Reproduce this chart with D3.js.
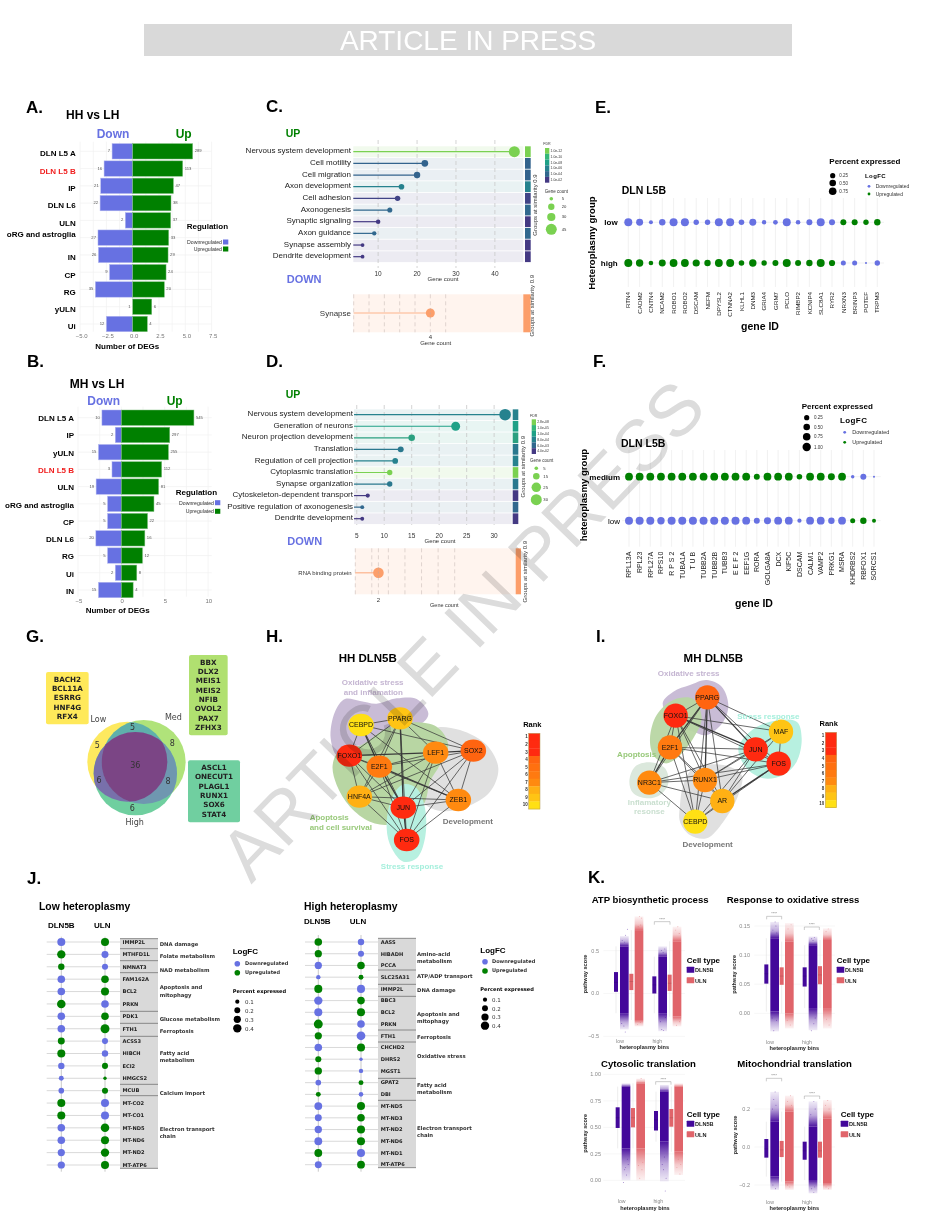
<!DOCTYPE html>
<html><head><meta charset="utf-8">
<script src="https://cdn.jsdelivr.net/npm/d3@7/dist/d3.min.js"></script>
<style>html,body{margin:0;padding:0;background:#fff}svg{display:block}text{font-family:"Liberation Sans",Arial,sans-serif}</style>
</head><body><div id="chart"></div>
<script>
// ---------- data ----------
const panelACats=["DLN L5 A","DLN L5 B","IP","DLN L6","ULN","oRG and astroglia","IN","CP","RG","yULN","Ui"];
const panelAUp=[5.7,4.75,3.87,3.64,3.61,3.42,3.36,3.17,3.01,1.81,1.39];
const panelADown=[1.96,2.72,3.04,3.1,0.7,3.3,3.26,2.2,3.55,0,2.5];
const panelAUpLabels=["289","113","47","38","37","33","29","24","20","6","4"];
const panelADownLabels=["7","16","21","22","2","27","26","9","35","1","12"];
const panelATicks=[-5,-2.5,0,2.5,5,7.5];
const panelBCats=["DLN L5 A","IP","yULN","DLN L5 B","ULN","oRG and astroglia","CP","DLN L6","RG","Ui","IN"];
const panelBUp=[8.37,5.58,5.43,4.65,4.3,3.76,3.02,2.71,2.44,1.78,1.36];
const panelBDown=[2.24,0.7,2.64,1.08,2.91,1.59,1.59,2.94,1.59,0.7,2.64];
const panelBUpLabels=["545","297","255","112","81","45","22","16","12","8","4"];
const panelBDownLabels=["10","2","15","3","19","5","5","20","5","2","15"];
const panelBTicks=[-5,0,5,10];

const cTerms=["Nervous system development","Cell motility","Cell migration","Axon development","Cell adhesion","Axonogenesis","Synaptic signaling","Axon guidance","Synapse assembly","Dendrite development"];
const cCounts=[45,22,20,16,15,13,10,9,6,6];
const cFdrColors=["#7ad151","#33638d","#33638d","#26828e","#414487","#31688e","#443983","#31688e","#443983","#443983"];
const cLegendFdr=["1.0e-12","1.0e-10","1.0e-08","1.0e-06","1.0e-04","1.0e-02"];
const cLegendCount=[5,20,30,45];
const dTerms=["Nervous system development","Generation of neurons","Neuron projection development","Translation","Regulation of cell projection","Cytoplasmic translation","Synapse organization","Cytoskeleton-dependent transport","Positive regulation of axonogenesis","Dendrite development"];
const dCounts=[32,23,15,13,12,11,11,7,6,6];
const dFdrColors=["#26828e","#1fa187","#2ba080","#2a788e","#26828e","#7ad151","#2a788e","#443983","#31688e","#443983"];
const dLegendFdr=["2.8e-08","1.0e-05","1.0e-04","8.0e-04","6.0e-03","4.0e-02"];
const dLegendCount=[5,15,25,30];
const fdrLegendColors=["#7ad151","#35b779","#1fa187","#26828e","#31688e","#443983"];

const eGenes=["RTN4","CADM2","CNTN4","NCAM2","ROBO1","ROBO2","DSCAM","NEFM","DPYSL2","CTNNA2","KLHL1","DNM3","GRIA4","GRM7","PCLO","RIMBP2","KCNIP4","SLC8A1","RYR2","NRXN3","BRINP3","POTEF","TRPM3"];
const ePctLow=[.87,.59,.12,.46,.87,.87,.28,.28,.87,.87,.31,.59,.16,.2,.87,.18,.38,.87,.38,.38,.38,.28,.46];
const ePctHigh=[.87,.7,.18,.59,.81,.81,.64,.46,.81,.87,.31,.7,.28,.38,.87,.38,.46,.87,.42,.23,.23,.017,.28];
const eDirLow=[0,0,0,0,0,0,0,0,0,0,0,0,0,0,0,0,0,0,0,1,1,1,1];
const fGenes=["RPL13A","RPL23","RPL27A","RPS10","R P S 2","TUBA1A","T U B","TUBB2A","TUBB2B","TUBB3","E E F 2","EEF1G","RORA","GOLGA8A","DCX","KIF5C","DSCAM","CALM1","VAMP2","PRKG1","MSRA","KHDRBS2","RBFOX1","SORCS1"];
const fPctMedium=[.81,.81,.81,.81,.81,.81,.81,.81,.81,.81,.81,.81,.38,.81,.81,.81,.31,.81,.81,.59,.81,.08,.38,.017];
const fPctLow=[.87,.87,.87,.7,.87,.87,.87,.87,.87,.87,.87,.81,.38,.59,.81,.81,.14,.81,.81,.46,.81,.23,.46,.12];
const fDirMedium=[1,1,1,1,1,1,1,1,1,1,1,1,1,1,1,1,1,1,1,1,1,0,0,0];

const gLowTFs=["BACH2","BCL11A","ESRRG","HNF4G","RFX4"];
const gMedTFs=["BBX","DLX2","MEIS1","MEIS2","NFIB","OVOL2","PAX7","ZFHX3"];
const gHighTFs=["ASCL1","ONECUT1","PLAGL1","RUNX1","SOX6","STAT4"];
const gSetNames=["Low","Med","High"];
const gCounts=["5","5","8","36","6","8","6"];

const hNodes=["CEBPD","PPARG","FOXO1","E2F1","LEF1","SOX2","HNF4A","JUN","ZEB1","FOS"];
const hRanks=[10,9,2,6,7,4,8,1,7,3];
const hEdges=[["CEBPD","PPARG"],["CEBPD","FOXO1"],["CEBPD","E2F1",2],["CEBPD","SOX2"],["CEBPD","ZEB1"],["CEBPD","JUN"],["PPARG","FOXO1"],["PPARG","E2F1"],["PPARG","HNF4A"],["PPARG","LEF1"],["PPARG","SOX2"],["PPARG","JUN",2],["PPARG","FOS"],["FOXO1","E2F1"],["FOXO1","LEF1",2],["FOXO1","HNF4A"],["FOXO1","JUN"],["FOXO1","FOS"],["FOXO1","ZEB1"],["E2F1","LEF1"],["E2F1","SOX2"],["E2F1","HNF4A"],["E2F1","JUN",2],["E2F1","FOS"],["E2F1","ZEB1",2],["LEF1","SOX2",2],["LEF1","HNF4A"],["LEF1","JUN"],["LEF1","ZEB1"],["LEF1","FOS"],["SOX2","HNF4A"],["SOX2","JUN"],["SOX2","ZEB1"],["SOX2","FOS"],["HNF4A","JUN"],["HNF4A","FOS"],["HNF4A","ZEB1"],["JUN","ZEB1"],["JUN","FOS",2],["ZEB1","FOS"]];
const iNodes=["PPARG","FOXO1","E2F1","JUN","MAF","FOS","RUNX1","NR3C1","AR","CEBPD"];
const iRanks=[4,3,6,1,9,2,7,7,8,10];
const iEdges=[["PPARG","FOXO1"],["PPARG","E2F1",2],["PPARG","MAF"],["PPARG","JUN",2],["PPARG","FOS"],["PPARG","RUNX1",2],["PPARG","NR3C1"],["PPARG","AR"],["PPARG","CEBPD"],["FOXO1","E2F1"],["FOXO1","MAF"],["FOXO1","JUN",2],["FOXO1","FOS"],["FOXO1","RUNX1"],["FOXO1","NR3C1"],["FOXO1","AR"],["FOXO1","CEBPD"],["E2F1","JUN"],["E2F1","FOS"],["E2F1","RUNX1"],["E2F1","NR3C1",2],["E2F1","AR"],["E2F1","CEBPD"],["JUN","MAF"],["JUN","FOS"],["JUN","RUNX1"],["JUN","NR3C1"],["JUN","AR"],["JUN","CEBPD"],["MAF","FOS"],["MAF","AR"],["MAF","RUNX1"],["FOS","RUNX1"],["FOS","NR3C1"],["FOS","AR",2],["FOS","CEBPD"],["RUNX1","NR3C1"],["RUNX1","AR"],["RUNX1","CEBPD"],["NR3C1","AR"],["NR3C1","CEBPD"],["AR","CEBPD"]];
const rankLabels=[1,2,3,4,5,6,7,8,9,10];
const rankColors=["#ff2a10","#ff2a10","#ff2a10","#ff6410","#ff7010","#ff7a10","#ff8a10","#ffb014","#ffc414","#ffe014"];

const jLowGenes=["IMMP2L","MTHFD1L","NMNAT3","FAM162A","BCL2","PRKN","PDK1","FTH1","ACSS3","HIBCH","ECI2","HMGCS2","MCUB","MT-CO2","MT-CO1","MT-ND5","MT-ND6","MT-ND2","MT-ATP6"];
const jLowPctD=[.37,.4,.235,.33,.33,.42,.33,.33,.28,.37,.235,.14,.18,.37,.37,.33,.33,.3,.3];
const jLowPctU=[.37,.28,.21,.33,.37,.33,.33,.46,.21,.235,.21,.066,.21,.37,.37,.42,.37,.4,.37];
const jLowDirD=[0,1,1,0,0,1,0,0,1,1,0,0,0,1,1,0,0,0,0];
const jLowGroups=[["DNA damage",1],["Folate metabolism",1],["NAD metabolism",1],["Apoptosis and|mitophagy",3],["Glucose metabolism",1],["Ferroptosis",1],["Fatty acid|metabolism",4],["Calcium import",1],["Electron transport|chain",6]];
const jHighGenes=["AASS","HIBADH","PCCA","SLC25A31","IMMP2L","BBC3","BCL2","PRKN","FTH1","CHCHD2","DHRS2","MGST1","GPAT2","DBI","MT-ND5","MT-ND3","MT-ND2","MT-ND6","MT-ND1","MT-ATP6"];
const jHighPctD=[.33,.3,.3,.11,.37,.4,.37,.46,.3,.33,.21,.31,.18,.14,.35,.28,.31,.35,.35,.28];
const jHighPctU=[.235,.21,.33,.14,.37,.33,.37,.33,.44,.37,.066,.11,.14,.12,.37,.33,.37,.37,.37,.35];
const jHighDirD=[1,1,0,0,1,0,0,1,1,0,1,1,0,1,0,0,0,0,1,0];
const jHighGroups=[["Amino-acid|metabolism",3],["ATP/ADP transport",1],["DNA damage",1],["Apoptosis and|mitophagy",3],["Ferroptosis",1],["Oxidative stress",3],["Fatty acid|metabolism",2],["Electron transport|chain",6]];
const jPctLegend=[.1,.2,.3,.4];

// K: each row = [q1, median, q3, coreLow, coreHigh, tailLow, tailHigh] for DLN5B low, ULN low, DLN5B high, ULN high
const kBins=["low","high"];
const kCellTypes=["DLN5B","ULN"];
const kAtp=[[.02,.13,.25,-.23,.55,-.42,.67],[.04,.14,.23,-.31,.74,-.385,.9],[0,.1,.2,-.23,.43,-.44,.55],[.03,.12,.22,-.27,.61,-.385,.78]];
const kOxi=[[.051,.068,.084,.003,.129,-.031,.157],[.049,.064,.079,0,.123,-.026,.155],[.046,.064,.079,.009,.117,-.029,.132],[.05,.066,.081,.009,.126,-.026,.146]];
const kCyto=[[.494,.59,.689,.302,.884,0,.915],[.5,.59,.682,.302,.915,0,.96],[.47,.57,.654,.365,.836,-.01,.9],[.506,.59,.673,.27,.884,.05,.915]];
const kMito=[[-.056,-.01,.042,-.156,.133,-.226,.29],[-.053,-.015,.032,-.182,.186,-.226,.27],[-.067,-.02,.028,-.174,.107,-.244,.24],[-.056,-.02,.028,-.19,.151,-.226,.247]];
const kAtpTicks=[-.5,0,.5], kOxiTicks=[0,.05,.1,.15], kCytoTicks=[0,.25,.5,.75,1], kMitoTicks=[-.2,0,.2];
// outlying jitter points: [band, position across band (-1..1), value]
const kAtpOut=[[0,.7,.75],[0,.3,.68],[0,-.5,.62],[0,.1,.6],[0,-.1,-.38],[0,.2,-.45],[0,-.6,-.35],[1,.1,.9],[1,.6,.88],[1,-.2,.78],[1,.4,.8],[1,-.3,-.36],[1,.3,-.34],[2,.5,.52],[2,-.3,.5],[2,.1,.48],[2,-.5,-.33],[2,.2,-.43],[2,-.2,-.42],[2,.6,-.28],[3,.2,.78],[3,-.3,.74],[3,.5,.7],[3,-.1,-.37],[3,.6,-.33]];
const kOxiOut=[[0,.1,.157],[0,.3,.15],[0,-.4,.143],[0,.5,.138],[0,-.2,-.03],[0,.4,-.012],[0,-.6,-.008],[1,.4,.152],[1,-.3,.145],[1,.2,-.02],[1,-.5,-.012],[2,.3,.13],[2,-.3,.128],[2,0,.125],[2,-.4,-.03],[2,.2,-.018],[2,.5,-.008],[3,.2,.145],[3,-.3,.14],[3,.4,-.02],[3,-.2,-.01]];
const kCytoOut=[[0,.1,.05],[0,-.3,.1],[0,.5,.15],[0,-.6,-.02],[0,-.1,.12],[0,.3,.2],[1,-.2,.02],[1,.3,.1],[1,-.5,.14],[1,.5,.17],[1,.1,.96],[2,-.2,.1],[2,.4,.02],[2,-.5,.15],[2,0,.22],[2,.2,-.1],[3,.3,.06],[3,-.4,.12],[3,.5,.15],[3,-.1,.2]];
const kMitoOut=[[0,.1,.29],[0,-.2,.25],[0,.3,.22],[0,-.5,.2],[0,.2,-.22],[0,-.4,-.2],[1,.3,.27],[1,-.4,.24],[1,.5,.22],[1,.1,-.21],[1,-.4,-.2],[2,.2,.24],[2,.5,.2],[2,-.5,.17],[2,-.3,-.22],[2,.2,-.24],[2,.4,-.21],[3,.1,.245],[3,-.4,.22],[3,.4,.2],[3,.3,-.22],[3,-.3,-.21]];

// ---------- colours / helpers ----------
const BLUE="#6771e2", GREEN="#008000", PURPLE="#43089a", RED="#e0646a";
const W=936,H=1232;
const svg=d3.select("#chart").append("svg").attr("width",W).attr("height",H).attr("viewBox",[0,0,W,H]);
const defs=svg.append("defs");
const DEJAVU='"DejaVu Sans",sans-serif';
function T(g,x,y,s,o={}){
  const e=g.append("text").attr("x",x).attr("y",y).text(s)
    .attr("font-size",o.size||8).attr("fill",o.fill||"#000")
    .attr("text-anchor",o.anchor||"start");
  if(o.weight)e.attr("font-weight",o.weight);
  if(o.mid)e.attr("dy",".35em");
  if(o.family)e.style("font-family",o.family);
  if(o.rot!=null)e.attr("transform",`rotate(${o.rot},${x},${y})`);
  if(o.ls)e.attr("letter-spacing",o.ls);
  return e;
}
const root=svg.append("g");

// header
root.append("rect").attr("x",144).attr("y",24).attr("width",648).attr("height",32).attr("fill","#d9d9d9");
T(root,468,50,"ARTICLE IN PRESS",{size:28,fill:"#fff",anchor:"middle"});

// panel letters
[["A.",26,113],["B.",27,367],["C.",266,112],["D.",266,367],["E.",595,113],["F.",593,367],["G.",26,642],["H.",266,642],["I.",596,642],["J.",27,884],["K.",588,883]]
  .forEach(d=>T(root,d[1],d[2],d[0],{size:17,weight:"bold"}));

// ---------- A/B diverging bars ----------
function diverging(o){
  const g=root.append("g");
  const x=d3.scaleLinear().domain(o.dom).range(o.xr);
  const y=d3.scalePoint().domain(o.cats.map((c,i)=>i)).range(o.yr);
  const bh=o.bh;
  g.append("g").selectAll("line").data(o.grid).join("line").attr("x1",d=>x(d)).attr("x2",d=>x(d))
    .attr("y1",o.gy[0]).attr("y2",o.gy[1]).attr("stroke","#f0f0f0").attr("stroke-width",.7);
  g.append("g").selectAll("line").data(o.cats).join("line").attr("x1",o.xr[0]).attr("x2",o.xr[1])
    .attr("y1",(d,i)=>y(i)).attr("y2",(d,i)=>y(i)).attr("stroke","#f0f0f0").attr("stroke-width",.7);
  g.append("g").selectAll("rect").data(o.down).join("rect").attr("x",d=>x(-d)).attr("width",d=>x(0)-x(-d))
    .attr("y",(d,i)=>y(i)-bh/2).attr("height",bh).attr("fill",BLUE).attr("stroke","#b3b8f0").attr("stroke-width",.5);
  g.append("g").selectAll("rect").data(o.up).join("rect").attr("x",x(0)).attr("width",d=>x(d)-x(0))
    .attr("y",(d,i)=>y(i)-bh/2).attr("height",bh).attr("fill",GREEN).attr("stroke","#7fbf7f").attr("stroke-width",.5);
  o.cats.forEach((c,i)=>{
    T(g,o.labelX,y(i)+(o.nudge[i]||0),c,{size:8,weight:"bold",anchor:"end",mid:1,fill:c==="DLN L5 B"?"#f01c1c":"#000"});
    T(g,x(o.up[i])+2,y(i)-.5,o.upL[i],{size:4.2,fill:"#555",mid:1});
    T(g,x(-o.down[i])-2,y(i)-.5,o.downL[i],{size:4.2,fill:"#555",anchor:"end",mid:1});
  });
  o.ticks.forEach(t=>T(g,x(t)+o.tdx,o.tickY,o.fmt(t),{size:6,fill:"#777",anchor:"middle",mid:1}));
  T(g,o.xLab[0],o.xLab[1],"Number of DEGs",{size:8,weight:"bold",anchor:"middle"});
  T(g,o.title[0],o.title[1],o.title[2],{size:12,weight:"bold"});
  T(g,o.dn[0],o.dn[1],"Down",{size:12,weight:"bold",fill:BLUE});
  T(g,o.upT[0],o.upT[1],"Up",{size:12,weight:"bold",fill:GREEN});
  const L=o.leg;
  T(g,L.x,L.ty,"Regulation",{size:8,weight:"bold"});
  [["Downregulated",BLUE,L.y[0]],["Upregulated",GREEN,L.y[1]]].forEach(r=>{
    T(g,L.tx,r[2],r[0],{size:5.2,anchor:"end",mid:1,fill:"#333"});
    g.append("rect").attr("x",L.tx+1).attr("y",r[2]-2.5).attr("width",5.3).attr("height",5).attr("fill",r[1]);
  });
}
diverging({cats:panelACats,up:panelAUp,down:panelADown,upL:panelAUpLabels,downL:panelADownLabels,ticks:panelATicks,
  grid:[-5,-3.75,-2.5,-1.25,0,1.25,2.5,3.75,5,6.25,7.5],dom:[-5,7.5],xr:[80.1,211.6],yr:[151.3,324],bh:15.4,gy:[141.7,331.7],labelX:75.7,
  nudge:[2.1,2.3,2.6,2.4,2.6,-3.7,2.4,2.9,2.6,2.6,2.1],tdx:1.5,tickY:336.3,fmt:d3.format(".1f"),xLab:[127.3,349.3],title:[66,119,"HH vs LH"],dn:[96.7,138.3],upT:[175.7,138.3],
  leg:{x:186.7,ty:229,tx:222,y:[242,249]}});
diverging({cats:panelBCats,up:panelBUp,down:panelBDown,upL:panelBUpLabels,downL:panelBDownLabels,ticks:panelBTicks,
  grid:[-5,-2.5,0,2.5,5,7.5,10],dom:[-5,10.42],xr:[78,211.7],yr:[417.7,590],bh:15.4,gy:[406.7,596.7],labelX:74,
  nudge:[.4,.7,1,.7,.4,1.4,.7,.7,1,1.4,1],tdx:.8,tickY:600.7,fmt:d3.format("d"),xLab:[117.7,613.3],title:[69.7,387.7,"MH vs LH"],dn:[87.3,405],upT:[166.7,405],
  leg:{x:175.7,ty:495,tx:214,y:[502.7,511.3]}});

// ---------- C/D lollipops ----------
function lollipop(o){
  const g=root.append("g");
  const x=d3.scaleLinear().domain(o.xDom).range(o.xRange);
  const y=d3.scalePoint().domain(o.terms).range(o.yr);
  const r=d3.scaleLinear().domain([5,o.maxC]).range([1.8,5.5]);
  const bh=o.bh;
  g.append("g").selectAll("rect").data(o.terms).join("rect").attr("x",o.xRange[0]).attr("width",o.bandR-o.xRange[0])
    .attr("y",d=>y(d)-bh/2).attr("height",bh).attr("fill",(d,i)=>o.colors[i]).attr("fill-opacity",.1);
  g.append("g").selectAll("line").data(o.ticks).join("line").attr("x1",d=>x(d)).attr("x2",d=>x(d)).attr("y1",o.dy[0]).attr("y2",o.dy[1])
    .attr("stroke","#c8c8c8").attr("stroke-width",.8).attr("stroke-dasharray","4,3");
  g.append("g").selectAll("line").data(o.counts).join("line").attr("x1",o.xRange[0]).attr("x2",d=>x(d))
    .attr("y1",(d,i)=>y(o.terms[i])).attr("y2",(d,i)=>y(o.terms[i])).attr("stroke",(d,i)=>o.colors[i]).attr("stroke-width",1.2);
  g.append("g").selectAll("circle").data(o.counts).join("circle").attr("cx",d=>x(d)).attr("cy",(d,i)=>y(o.terms[i])).attr("r",d=>r(d)).attr("fill",(d,i)=>o.colors[i]);
  g.append("g").selectAll("rect").data(o.terms).join("rect").attr("x",o.strip[0]).attr("width",o.strip[1]-o.strip[0])
    .attr("y",d=>y(d)-bh/2).attr("height",bh).attr("fill",(d,i)=>o.colors[i]);
  o.terms.forEach((t,i)=>T(g,o.labelX,y(t)-1.2,t,{size:8,anchor:"end",mid:1,fill:"#222"}));
  o.ticks.forEach(t=>T(g,x(t),o.tickY,t,{size:6.5,anchor:"middle",mid:1,fill:"#333"}));
  T(g,o.gc[0],o.gc[1],"Gene count",{size:6,anchor:"middle",mid:1,fill:"#333"});
  T(g,o.up[0],o.up[1],"UP",{size:10.5,weight:"bold",fill:GREEN});
  T(g,o.dn[0],o.dn[1],"DOWN",{size:11,weight:"bold",fill:BLUE});
  T(g,o.sim[0],o.sim[1],"Groups at similarity 0.9",{size:6,anchor:"middle",mid:1,rot:-90,fill:"#333"});
  // lower
  const L=o.low, xl=d3.scaleLinear().domain(L.dom).range(L.range);
  g.append("rect").attr("x",L.band[0]).attr("y",L.band[1]).attr("width",L.band[2]-L.band[0]).attr("height",L.band[3]-L.band[1]).attr("fill","#fff4ee");
  g.append("g").selectAll("line").data(L.ticks).join("line").attr("x1",d=>xl(d)).attr("x2",d=>xl(d)).attr("y1",L.band[1]).attr("y2",L.band[3])
    .attr("stroke","#d8ccc6").attr("stroke-width",.8).attr("stroke-dasharray","4,3");
  const cy=(L.band[1]+L.band[3])/2+L.yOff;
  g.append("line").attr("x1",L.range[0]).attr("x2",xl(L.value)).attr("y1",cy).attr("y2",cy).attr("stroke","#fdb38c").attr("stroke-width",1.2);
  g.append("circle").attr("cx",xl(L.value)).attr("cy",cy).attr("r",L.r).attr("fill","#fc9e6a");
  g.append("line").attr("x1",xl(L.value)).attr("x2",xl(L.value)).attr("y1",cy-L.r).attr("y2",cy+L.r).attr("stroke","#c8a898").attr("stroke-width",.7).attr("stroke-dasharray","2,2");
  g.append("rect").attr("x",L.strip[0]).attr("y",L.band[1]).attr("width",L.strip[1]-L.strip[0]).attr("height",L.band[3]-L.band[1]).attr("fill","#fc9e6a");
  T(g,L.labelX,cy+L.labDy,L.term,{size:L.termSize,anchor:"end",mid:1,fill:"#333"});
  T(g,xl(L.value),L.tickY,L.value,{size:6,anchor:"middle",mid:1,fill:"#333"});
  T(g,L.gc[0],L.gc[1],"Gene count",{size:L.gcSize,anchor:"middle",mid:1,fill:"#333"});
  T(g,L.sim[0],L.sim[1],"Groups at similarity 0.9",{size:6,anchor:"middle",mid:1,rot:-90,fill:"#333"});
  // legends
  const F=o.fdr;
  T(g,F.x,F.ty,"FDR",{size:3.6,mid:1,fill:"#333"});
  o.legF.forEach((s,i)=>{
    g.append("rect").attr("x",F.sx).attr("y",F.sy+i*5.78).attr("width",4.3).attr("height",5.78).attr("fill",fdrLegendColors[i]);
    T(g,F.sx+5.6,F.sy+(i+.5)*5.78,s,{size:3.4,mid:1,fill:"#333"});
  });
  T(g,F.x+F.gcDx,F.gy,"Gene count",{size:4.5,mid:1,fill:"#333"});
  o.legC.forEach((c,i)=>{
    g.append("circle").attr("cx",F.cx).attr("cy",F.cy[i]).attr("r",r(c)).attr("fill","#7ad151");
    T(g,F.lx,F.cy[i],c,{size:4.2,mid:1,fill:"#333"});
  });
}
lollipop({terms:cTerms,counts:cCounts,colors:cFdrColors,xDom:[3.62,47.3],xRange:[353.3,523.3],bandR:523.3,yr:[151.7,256.7],bh:10.8,ticks:[10,20,30,40],dy:[140,268],strip:[525,530.7],labelX:351,tickY:273.5,gc:[443,278.5],maxC:45,
  up:[285.7,136.7],dn:[286.7,283],sim:[535,205],legF:cLegendFdr,legC:cLegendCount,
  fdr:{x:543.3,ty:144,sx:545,sy:148,gy:191,gcDx:1.5,cx:551.3,cy:[198.7,206.7,217,229.3],lx:561.7},
  low:{dom:[1.5,5],range:[353.7,461],band:[353.3,294.3,523.3,332.3],ticks:[1.5,2,2.5,3,3.5,4,4.5],value:4,r:4.5,strip:[523.3,530.7],labelX:351,yOff:-.3,labDy:0,term:"Synapse",termSize:8,tickY:337,gc:[435.7,343],gcSize:6,sim:[532,305.7]}});
lollipop({terms:dTerms,counts:dCounts,colors:dFdrColors,xDom:[4.5,33.2],xRange:[354,511.7],bandR:511.7,yr:[414.7,518.7],bh:10.7,ticks:[5,10,15,20,25,30],dy:[405,525],strip:[512.7,518.3],labelX:353,tickY:535.7,gc:[440,540.7],maxC:30,
  up:[285.7,398],dn:[287.3,545],sim:[523,466.7],legF:dLegendFdr,legC:dLegendCount,
  fdr:{x:530,ty:415.7,sx:531.7,sy:419.3,gy:460,gcDx:0,cx:536.3,cy:[468.3,476.3,487.3,499.7],lx:543.3},
  low:{dom:[1.303,4.3],range:[355.3,454.7],band:[355,548.3,515.7,594.3],ticks:[1.303,1.8,2,2.3,2.8,3.3,3.8,4.3],value:2,r:5.3,strip:[515.7,521],labelX:351.7,yOff:1.5,labDy:0,term:"RNA binding protein",termSize:6,tickY:600,gc:[444.3,604.7],gcSize:5.5,sim:[525,571.7]}});

// ---------- E/F dot plots ----------
const rPct=d3.scalePow().exponent(.35).domain([0,1]).range([0,4.2]);
function dotplot(o){
  const g=root.append("g");
  const x=d3.scalePoint().domain(o.genes).range(o.xr);
  const y=d3.scalePoint().domain(o.rows).range(o.yr);
  g.append("g").selectAll("line").data(o.genes).join("line").attr("x1",d=>x(d)).attr("x2",d=>x(d)).attr("y1",o.gy[0]).attr("y2",o.gy[1]).attr("stroke","#eee").attr("stroke-width",.8);
  g.append("g").selectAll("line").data(o.rows).join("line").attr("x1",o.gx[0]).attr("x2",o.gx[1]).attr("y1",d=>y(d)).attr("y2",d=>y(d)).attr("stroke","#eee").attr("stroke-width",.8);
  o.genes.forEach((n,i)=>{
    g.append("circle").attr("cx",x(n)).attr("cy",y(o.rows[0])).attr("r",rPct(o.p0[i])).attr("fill",o.dir0[i]?GREEN:BLUE);
    g.append("circle").attr("cx",x(n)).attr("cy",y(o.rows[1])).attr("r",rPct(o.p1[i])).attr("fill",o.dir0[i]?BLUE:GREEN);
    T(g,x(n),o.labY,n,{size:o.gs,anchor:"end",mid:1,rot:-90,fill:"#222"});
  });
  o.rows.forEach(r=>T(g,o.rowX,y(r)+o.rowDy,r,{size:8,weight:o.rowBold(r),anchor:"end",mid:1}));
  T(g,o.title[0],o.title[1],"DLN L5B",{size:10.5,weight:"bold"});
  T(g,o.yT[0],o.yT[1],o.yT[2],{size:9.6,weight:"bold",anchor:"middle",mid:1,rot:-90});
  T(g,o.xT[0],o.xT[1],"gene ID",{size:10.5,weight:"bold",anchor:"middle"});
  const L=o.leg;
  T(g,L.px,L.py,"Percent expressed",{size:8,weight:"bold"});
  L.sizes.forEach((s,i)=>{
    g.append("circle").attr("cx",L.cx).attr("cy",L.cy[i]).attr("r",rPct(s)).attr("fill","#000");
    T(g,L.tx,L.cy[i],d3.format(".2f")(s),{size:4.5,mid:1,fill:"#333"});
  });
  T(g,L.lx,L.ly,"LogFC",{size:L.ls,weight:"bold",ls:.4});
  [["Downregulated",BLUE],["Upregulated",GREEN]].forEach((r,i)=>{
    g.append("circle").attr("cx",L.dx).attr("cy",L.dy[i]).attr("r",1.4).attr("fill",r[1]);
    T(g,L.dtx,L.dy[i],r[0],{size:L.ds,mid:1,fill:"#333"});
  });
}
dotplot({genes:eGenes,rows:["low","high"],p0:ePctLow,p1:ePctHigh,dir0:eDirLow,xr:[628.3,877.3],yr:[222.3,263],gy:[198,287],gx:[623,884],labY:292,gs:6.2,rowX:617.7,rowDy:0,rowBold:()=>"bold",
  title:[621.7,193.7],yT:[592,243,"Heteroplasmy group"],xT:[760,330],
  leg:{px:829.3,py:164.3,sizes:[.25,.5,.75],cx:832.7,cy:[175.7,183,191.3],tx:839.3,lx:865,ly:178.3,ls:6,dx:869,dy:[186.3,194],dtx:875.7,ds:5}});
dotplot({genes:fGenes,rows:["medium","low"],p0:fPctMedium,p1:fPctLow,dir0:fDirMedium,xr:[629,874],yr:[476.7,520.7],gy:[450,546.7],gx:[622,880.7],labY:551.7,gs:7,rowX:620,rowDy:.8,rowBold:r=>r==="medium"?"bold":"normal",
  title:[621,446.7],yT:[584,495,"heteroplasmy group"],xT:[754,607],
  leg:{px:801.7,py:408.7,sizes:[.25,.5,.75,1],cx:806.7,cy:[417.7,427,436.7,447],tx:814,lx:840,ly:423.3,ls:8,dx:844.7,dy:[432.3,442.3],dtx:852.3,ds:5.5}});

// ---------- G venn ----------
(function(){
  const g=root.append("g");
  const zx=d3.scaleLinear().domain([0,240]).range([20,100]), zy=d3.scaleLinear().domain([0,210]).range([625,695]);
  const C={low:[322,410,120],med:[371,411,126],high:[346,446,125]};
  const circ=(sel,c)=>sel.attr("cx",zx(c[0])).attr("cy",zy(c[1])).attr("r",c[2]/3);
  Object.keys(C).forEach(k=>circ(defs.append("clipPath").attr("id","v-"+k).append("circle"),C[k]));
  circ(defs.append("clipPath").attr("id","v-lowmed").attr("clip-path","url(#v-low)").append("circle"),C.med);
  circ(g.append("circle"),C.low).attr("fill","#fde95f");
  circ(g.append("circle"),C.med).attr("fill","#b0e37a");
  circ(g.append("circle"),C.high).attr("fill","#6fcf9f");
  circ(g.append("circle").attr("clip-path","url(#v-low)"),C.med).attr("fill","#5fb0ab");
  circ(g.append("circle").attr("clip-path","url(#v-low)"),C.high).attr("fill","#7870ab");
  circ(g.append("circle").attr("clip-path","url(#v-med)"),C.high).attr("fill","#6f97b0");
  circ(g.append("circle").attr("clip-path","url(#v-lowmed)"),C.high).attr("fill","#7b4585");
  const countPos=[[338,306],[232,360],[457,356],[346,421],[237,465],[444,470],[337,550]];
  gCounts.forEach((s,i)=>T(g,zx(countPos[i][0]),zy(countPos[i][1]),s,{size:8,anchor:"middle",mid:1,fill:"#333",family:DEJAVU}));
  const setPos=[[235,282],[460,276],[344,592]];
  gSetNames.forEach((s,i)=>T(g,zx(setPos[i][0]),zy(setPos[i][1]),s,{size:8,anchor:"middle",mid:1,fill:"#444",family:DEJAVU}));
  [[gLowTFs,[78,141,206,298],"#ffe95a",142,162],[gMedTFs,[507,90,623,331],"#b0e070",565,111],[gHighTFs,[504,406,660,592],"#70cfa0",582,427]].forEach(b=>{
    const r=b[1];
    g.append("rect").attr("x",zx(r[0])).attr("y",zy(r[1])).attr("width",zx(r[2])-zx(r[0])).attr("height",zy(r[3])-zy(r[1])).attr("rx",2).attr("fill",b[2]);
    b[0].forEach((s,i)=>T(g,zx(b[3]),zy(b[4])+i*9.33,s,{size:7.2,weight:"bold",anchor:"middle",mid:1,fill:"#222",family:DEJAVU}));
  });
})();

// ---------- H/I networks ----------
function network(o){
  const g=root.append("g");
  const zx=d3.scaleLinear().domain([0,3]).range([o.ox,o.ox+1]), zy=d3.scaleLinear().domain([0,3]).range([625,626]);
  const blob=d3.line().x(d=>zx(d[0])).y(d=>zy(d[1])).curve(d3.curveCatmullRomClosed.alpha(.5));
  o.blobs.forEach(b=>g.append("path").attr("d",blob(b.pts)).attr("fill",b.fill).attr("fill-opacity",b.op||1));
  const idx=n=>o.nodes.indexOf(n);
  g.append("g").selectAll("line").data(o.edges).join("line")
    .attr("x1",d=>zx(o.pos[idx(d[0])][0])).attr("y1",d=>zy(o.pos[idx(d[0])][1]))
    .attr("x2",d=>zx(o.pos[idx(d[1])][0])).attr("y2",d=>zy(o.pos[idx(d[1])][1]))
    .attr("stroke","#3a3a3a").attr("stroke-width",d=>d[2]?1.3:.75);
  o.nodes.forEach((n,i)=>{
    g.append("ellipse").attr("cx",zx(o.pos[i][0])).attr("cy",zy(o.pos[i][1])).attr("rx",o.rx).attr("ry",o.ry).attr("fill",rankColors[o.ranks[i]-1]);
    T(g,zx(o.pos[i][0]),zy(o.pos[i][1]),n,{size:7,anchor:"middle",mid:1,fill:"#111"});
  });
  o.labels.forEach(l=>T(g,zx(l[1]),zy(l[2]),l[0],{size:8,weight:"bold",anchor:l[4]||"middle",mid:1,fill:l[3]}));
  T(g,o.title[0],o.title[1],o.title[2],{size:11.5,weight:"bold",anchor:"middle"});
  const R=o.rank;
  T(g,R.cx,R.ty,"Rank",{size:7.5,weight:"bold",anchor:"middle"});
  const ys=d3.scaleBand().domain(rankLabels).range([R.y0,R.y1]);
  g.append("g").selectAll("rect").data(rankLabels).join("rect").attr("x",R.x0).attr("width",R.x1-R.x0).attr("y",d=>ys(d)).attr("height",ys.bandwidth()+.3).attr("fill",(d,i)=>rankColors[i]);
  g.append("rect").attr("x",R.x0).attr("width",R.x1-R.x0).attr("y",R.y0).attr("height",R.y1-R.y0).attr("fill","none").attr("stroke","#b59a5a").attr("stroke-width",.5);
  rankLabels.forEach(d=>T(g,R.x0-1,ys(d)+ys.bandwidth()/2-.3,d,{size:4.5,anchor:"end",mid:1,weight:"bold",fill:"#333"}));
}
const PURP="#c9bcd6",GRN="#b8d6a3",GRY="#e0e0e0",TEAL="#b7f0e0";
network({ox:260,nodes:hNodes,ranks:hRanks,edges:hEdges,rx:12.8,ry:11.2,
  pos:[[303,300],[420,280],[268,392],[358,425],[527,383],[640,377],[298,515],[430,548],[595,525],[440,645]],
  blobs:[{fill:PURP,pts:[[212,340],[225,260],[255,222],[300,228],[350,236],[410,220],[470,222],[505,265],[490,292],[420,310],[370,345],[330,365],[270,362],[232,392]]},
   {fill:GRY,pts:[[530,310],[600,315],[680,360],[715,430],[690,500],[620,545],[540,558],[490,530],[500,480],[540,420],[565,360]]},
   {fill:GRN,pts:[[218,420],[240,375],[300,362],[380,310],[450,292],[530,305],[565,360],[540,420],[510,470],[495,530],[450,590],[390,600],[330,590],[270,545],[230,480]]},
   {fill:TEAL,pts:[[430,478],[470,490],[495,550],[495,640],[470,700],[430,710],[395,670],[380,610],[395,520]]}],
  labels:[["Oxidative stress",338,172,"#c5b6d2"],["and inflamation",340,202,"#c5b6d2"],["Apoptosis",149,577,"#98c97a","start"],["and cell survival",149,607,"#98c97a","start"],["Development",548,589,"#777","start"],["Stress response",456,724,"#a5efdc"]],
  title:[367.7,661.7,"HH DLN5B"],rank:{cx:532.3,ty:726.7,x0:528.7,x1:540,y0:733.3,y1:809}});
network({ox:590,nodes:iNodes,ranks:iRanks,edges:iEdges,rx:12.2,ry:12.2,
  pos:[[352,217],[257,272],[240,367],[497,373],[573,320],[566,416],[345,465],[178,473],[397,528],[316,590]],
  blobs:[{fill:PURP,pts:[[218,235],[250,200],[300,180],[350,165],[395,185],[415,240],[400,290],[350,330],[310,320],[260,300]]},
   {fill:"#dbe8dc",pts:[[118,470],[135,425],[180,412],[225,430],[235,475],[210,510],[170,520],[130,505]]},
   {fill:GRN,op:.95,pts:[[180,340],[200,270],[250,225],[310,222],[335,280],[310,340],[260,400],[225,415],[190,390]]},
   {fill:TEAL,pts:[[445,370],[480,320],[540,290],[620,290],[635,340],[620,410],[580,450],[520,460],[470,430]]},
   {fill:GRY,pts:[[270,540],[280,480],[310,430],[400,420],[455,450],[445,510],[400,590],[350,640],[300,630],[270,590]]}],
  labels:[["Oxidative stress",296,145,"#c5b6d2"],["Stress response",535,275,"#a5efdc"],["Apoptosis",140,388,"#98c97a"],["Inflamatory",178,532,"#c9dfcf"],["resonse",178,560,"#c9dfcf"],["Development",353,658,"#777"]],
  title:[713.3,661.7,"MH DLN5B"],rank:{cx:828.7,ty:725.7,x0:825.3,x1:836.7,y0:732.3,y1:807.7}});

// ---------- J pathway dot tables ----------
const rJ=d3.scaleSqrt().domain([0,1]).range([0,6.6]);
function table(o){
  const g=root.append("g");
  const y=d3.scalePoint().domain(o.genes).range(o.yr);
  const x=d3.scalePoint().domain(["DLN5B","ULN"]).range(o.xr);
  const step=y.step();
  g.append("rect").attr("x",o.box[0]).attr("width",o.box[1]-o.box[0]).attr("y",o.boxY[0]).attr("height",o.boxY[1]-o.boxY[0]).attr("fill","#d9d9d9");
  g.append("g").selectAll("line").data(o.genes).join("line").attr("x1",o.gx[0]).attr("x2",o.gx[1]).attr("y1",d=>y(d)).attr("y2",d=>y(d)).attr("stroke","#cfcfcf").attr("stroke-width",.8);
  g.append("g").selectAll("line").data(["DLN5B","ULN"]).join("line").attr("x1",d=>x(d)).attr("x2",d=>x(d)).attr("y1",o.vy[0]).attr("y2",o.vy[1]).attr("stroke","#bbb").attr("stroke-width",.8);
  o.genes.forEach((n,i)=>{
    g.append("circle").attr("cx",x("DLN5B")).attr("cy",y(n)).attr("r",rJ(o.pd[i])).attr("fill",o.dir[i]?GREEN:BLUE);
    g.append("circle").attr("cx",x("ULN")).attr("cy",y(n)).attr("r",rJ(o.pu[i])).attr("fill",o.dir[i]?BLUE:GREEN);
    T(g,o.gl,y(n),n,{size:5.1,weight:"bold",mid:1,fill:"#222",family:DEJAVU});
  });
  let k=0;
  o.seps.forEach(s=>g.append("line").attr("x1",o.box[0]).attr("x2",o.box[1]).attr("y1",s).attr("y2",s).attr("stroke","#808080").attr("stroke-width",.9));
  o.groups.forEach((gr,i)=>{
    gr[0].split("|").forEach((ln,j)=>T(g,o.pl,o.py[i]+j*7.5,ln,{size:5.3,weight:"bold",mid:1,fill:"#333",family:DEJAVU}));
  });
  T(g,o.title[0],o.title[1],o.title[2],{size:10.4,weight:"bold"});
  T(g,o.hd[0],o.hd[2],"DLN5B",{size:8,weight:"bold",anchor:"middle"});
  T(g,o.hd[1],o.hd[2],"ULN",{size:8,weight:"bold",anchor:"middle"});
  const L=o.leg;
  T(g,L.x,L.y1,"LogFC",{size:8,weight:"bold"});
  [["Downregulated",BLUE],["Upregulated",GREEN]].forEach((r,i)=>{
    g.append("circle").attr("cx",L.cx).attr("cy",L.dy[i]).attr("r",2.8).attr("fill",r[1]);
    T(g,L.tx,L.dy[i]-.5,r[0],{size:5,weight:"bold",mid:1,fill:"#333",family:DEJAVU});
  });
  T(g,L.x,L.y2,"Percent expressed",{size:5.1,weight:"bold",family:DEJAVU});
  jPctLegend.forEach((p,i)=>{
    g.append("circle").attr("cx",L.cx).attr("cy",L.sy[i]).attr("r",rJ(p)).attr("fill","#000");
    T(g,L.tx,L.sy[i]+.4,p,{size:5.5,mid:1,fill:"#333",family:DEJAVU});
  });
}
const jz=v=>865+v/3, hz=v=>890+v/3;
table({genes:jLowGenes,pd:jLowPctD,pu:jLowPctU,dir:jLowDirD,groups:jLowGroups,yr:[942,1165],xr:[61.3,105],box:[120,158],boxY:[938.5,1168],gx:[46.7,120],vy:[936.7,1171.7],gl:122.5,
  seps:[221,251,287,323,439,475,514,658,692,910].map(jz),pl:159.7,py:[238,274,316,367,463,498,563,684,792].map(jz),title:[39,910,"Low heteroplasmy"],hd:[61.3,102.3,927.7],
  leg:{x:232.7,y1:954.3,cx:237.3,dy:[963.7,972.7],tx:245,y2:992.7,sy:[1001.7,1010.3,1019.3,1028.3]}});
table({genes:jHighGenes,pd:jHighPctD,pu:jHighPctU,dir:jHighDirD,groups:jHighGroups,yr:[942,1164.7],xr:[318.3,361],box:[378,416],boxY:[938.3,1167.7],gx:[305,378],vy:[935,1171.7],gl:380.7,
  seps:[145,240,283,319,420,456,565,631,833].map(hz),pl:417,py:[191,257,300,371,441,498,585,714].map(hz),title:[304,910,"High heteroplasmy"],hd:[317.3,358,924.3],
  leg:{x:480.3,y1:952.7,cx:485,dy:[961.7,971],tx:492,y2:990.7,sy:[999.7,1008.3,1017,1025.7]}});

// ---------- K jitter panels ----------
[["gUp",PURPLE,0],["gDn",PURPLE,1],["rUp",RED,0],["rDn",RED,1]].forEach(d=>{
  const lg=defs.append("linearGradient").attr("id",d[0]).attr("x1",0).attr("x2",0).attr("y1",0).attr("y2",1);
  lg.append("stop").attr("offset",0).attr("stop-color",d[1]).attr("stop-opacity",d[2]?.95:.08);
  lg.append("stop").attr("offset",.55).attr("stop-color",d[1]).attr("stop-opacity",.35);
  lg.append("stop").attr("offset",1).attr("stop-color",d[1]).attr("stop-opacity",d[2]?.08:.95);
});
const kx=v=>575+v/3, ky=v=>865+v/3;
function kPanel(o){
  const g=root.append("g");
  const y=d3.scaleLinear().domain(o.dom).range(o.rng.map(ky));
  o.ticks.forEach(t=>{
    g.append("line").attr("x1",kx(o.gx[0])).attr("x2",kx(o.gx[1])).attr("y1",y(t)).attr("y2",y(t)).attr("stroke","#f3f3f3").attr("stroke-width",.7);
    T(g,kx(o.tickX),y(t),o.fmt(t),{size:5.5,anchor:"end",mid:1,fill:"#888"});
  });
  const boxOff=[0,46,115,161], jitOff=[25,69,140,183];
  o.data.forEach((d,i)=>{
    const col=i%2?RED:PURPLE, pre=i%2?"r":"g";
    const bx=kx(o.x0+boxOff[i]), jx=kx(o.x0+jitOff[i]), hw=13/3, bw=6/3;
    g.append("line").attr("x1",bx).attr("x2",bx).attr("y1",y(d[4])).attr("y2",y(d[3])).attr("stroke","#e0e0e0").attr("stroke-width",.6);
    g.append("rect").attr("x",jx-hw).attr("width",2*hw).attr("y",y(d[6])).attr("height",y(d[4])-y(d[6])).attr("fill",`url(#${pre}Up)`);
    g.append("rect").attr("x",jx-hw).attr("width",2*hw).attr("y",y(d[3])).attr("height",y(d[5])-y(d[3])).attr("fill",`url(#${pre}Dn)`);
    g.append("rect").attr("x",jx-hw).attr("width",2*hw).attr("y",y(d[4])).attr("height",y(d[3])-y(d[4])).attr("fill",col);
    g.append("rect").attr("x",bx-bw).attr("width",2*bw).attr("y",y(d[2])).attr("height",y(d[0])-y(d[2])).attr("fill",col);
    g.append("line").attr("x1",bx-bw).attr("x2",bx+bw).attr("y1",y(d[1])).attr("y2",y(d[1])).attr("stroke","#000").attr("stroke-opacity",.22).attr("stroke-width",.5);
  });
  g.append("g").selectAll("circle").data(o.out).join("circle")
    .attr("cx",d=>kx(o.x0+jitOff[d[0]])+d[1]*13/3).attr("cy",d=>y(d[2])).attr("r",.45)
    .attr("fill",d=>d[0]%2?RED:PURPLE).attr("fill-opacity",.75);
  o.brackets.forEach(b=>{
    g.append("path").attr("d",`M${kx(b[0])},${ky(b[2])+3}V${ky(b[2])}H${kx(b[1])}V${ky(b[2])+3}`).attr("fill","none").attr("stroke","#999").attr("stroke-width",.5);
    T(g,kx((b[0]+b[1])/2),ky(b[2])-1,"****",{size:3.6,anchor:"middle",fill:"#777"});
  });
  kBins.forEach((b,i)=>T(g,kx(o.binX[i]),ky(o.binY),b,{size:5.2,anchor:"middle",mid:1,fill:"#888"}));
  T(g,kx(o.xlab[0]),ky(o.xlab[1]),"heteroplasmy bins",{size:5.6,weight:"bold",anchor:"middle",mid:1,fill:"#222"});
  T(g,kx(o.ylab[0]),ky(o.ylab[1]),"pathway score",{size:5.6,weight:"bold",anchor:"middle",mid:1,rot:-90,fill:"#222"});
  T(g,kx(o.titleX),ky(o.titleY),o.title,{size:9.6,weight:"bold"});
  T(g,kx(o.leg[0]),ky(o.leg[1]),"Cell type",{size:8,weight:"bold"});
  kCellTypes.forEach((c,i)=>{
    g.append("rect").attr("x",kx(o.leg[0])).attr("y",ky(o.leg[1]+10+i*32)).attr("width",7.6).attr("height",6).attr("rx",.5).attr("fill",i?RED:PURPLE);
    T(g,kx(o.leg[0]+25),ky(o.leg[1]+21+i*32),c,{size:5.6,weight:"bold",mid:1,fill:"#222"});
  });
}
kPanel({data:kAtp,out:kAtpOut,ticks:kAtpTicks,dom:[-.5,.5],rng:[514,257],fmt:d3.format(".1f"),tickX:72,gx:[85,330],x0:123,brackets:[[238,285,170]],binX:[135,247],binY:530,xlab:[208,546],ylab:[30,327],title:"ATP biosynthetic process",titleX:50,titleY:113,leg:[335,295]});
kPanel({data:kOxi,out:kOxiOut,ticks:kOxiTicks,dom:[0,.15],rng:[445,183],fmt:d3.format(".2f"),tickX:525,gx:[538,780],x0:574,brackets:[[575,620,154],[688,733,186]],binX:[585,696],binY:533,xlab:[658,549],ylab:[478,328],title:"Response to oxidative stress",titleX:455,titleY:113,leg:[785,295]});
kPanel({data:kCyto,out:kCytoOut,ticks:kCytoTicks,dom:[0,1],rng:[946,628],fmt:d3.format(".2f"),tickX:78,gx:[85,330],x0:128,brackets:[[242,288,650]],binX:[140,250],binY:1010,xlab:[210,1029],ylab:[30,805],title:"Cytosolic translation",titleX:78,titleY:605,leg:[335,757]});
kPanel({data:kMito,out:kMitoOut,ticks:kMitoTicks,dom:[-.2,.2],rng:[960,732],fmt:d3.format(".1f"),tickX:525,gx:[538,780],x0:574,brackets:[[574,620,640],[688,734,693]],binX:[585,696],binY:1012,xlab:[658,1029],ylab:[480,810],title:"Mitochondrial translation",titleX:487,titleY:605,leg:[797,757]});

// ---------- watermark ----------
T(svg,462,630,"ARTICLE IN PRESS",{size:72,anchor:"middle",mid:1,fill:"#dcdcdc",rot:-46}).style("mix-blend-mode","multiply");
</script></body></html>
